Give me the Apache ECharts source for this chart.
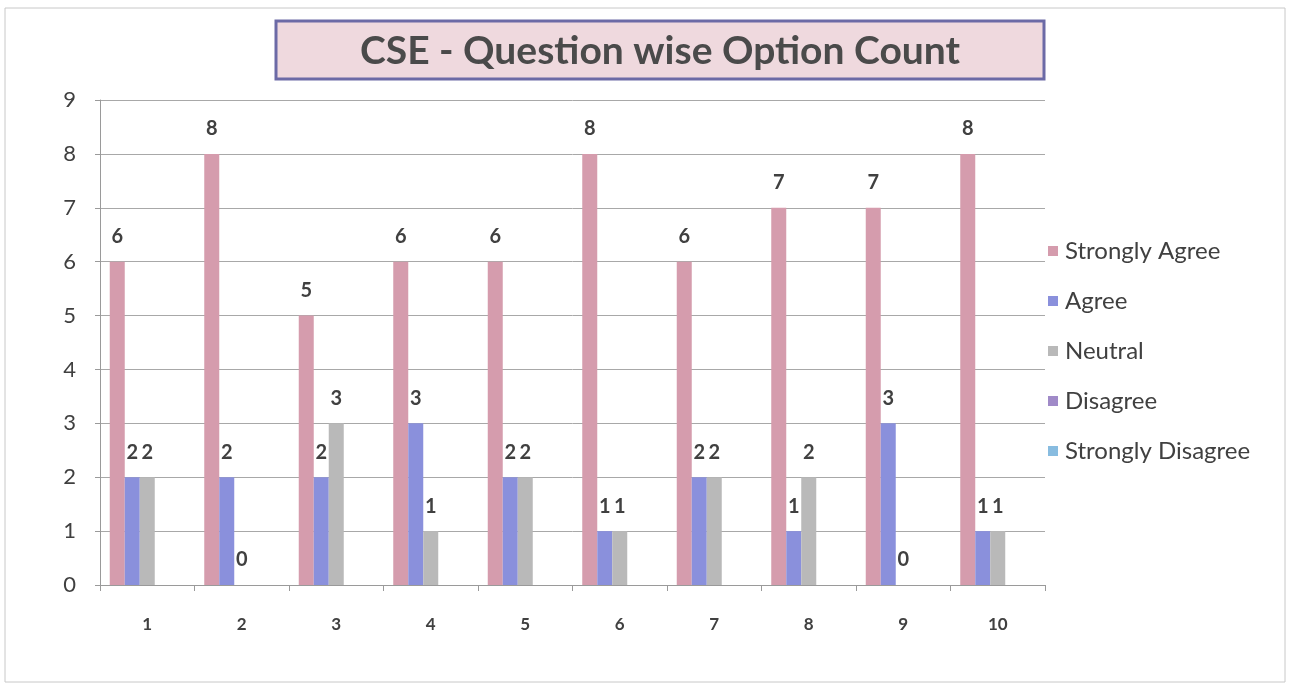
<!DOCTYPE html>
<html>
<head>
<meta charset="utf-8">
<title>CSE - Question wise Option Count</title>
<script src="https://cdn.jsdelivr.net/npm/echarts@6/dist/echarts.min.js"></script>
<style>
  html, body { margin: 0; padding: 0; background: #fff; }
  #chart { width: 1292px; height: 686px; }
</style>
</head>
<body>
<div id="chart"></div>
<script>
  // question numbers on the x axis
  var questions = ['1', '2', '3', '4', '5', '6', '7', '8', '9', '10']
  // option counts per question
  var stronglyAgree = [6, 8, 5, 6, 6, 8, 6, 7, 7, 8]
  var agree = [2, 2, 2, 3, 2, 1, 2, 1, 3, 1]
  var neutral = [2, 0, 3, 1, 2, 1, 2, 2, 0, 1]
  var disagree = [0, 0, 0, 0, 0, 0, 0, 0, 0, 0]
  var stronglyDisagree = [0, 0, 0, 0, 0, 0, 0, 0, 0, 0]
  var yTicks = [0, 9, 1] // min, max, interval

  var font = 'Lato, "Open Sans", sans-serif'
  var textColor = '#404040'

  function barSeries(name, data, color, showLabel) {
    return {
      name: name,
      type: 'bar',
      data: data,
      barWidth: 15,
      barGap: '0%',
      itemStyle: {color: color},
      label: {
        show: showLabel,
        position: 'top',
        distance: 15,
        fontFamily: font,
        fontWeight: 'bold',
        fontSize: 20,
        color: textColor
      }
    }
  }

  var chart = echarts.init(document.getElementById('chart'))
  chart.setOption({
    animation: false,
    backgroundColor: '#fff',
    textStyle: {fontFamily: font},
    graphic: [
      {
        type: 'rect',
        shape: {x: 5, y: 8, width: 1280, height: 674},
        style: {fill: 'none', stroke: '#c8c8c8', lineWidth: 1}
      },
      {
        type: 'rect',
        shape: {x: 276, y: 21, width: 768, height: 58},
        style: {fill: '#efd9de', stroke: '#6c6aa6', lineWidth: 3}
      },
      {
        type: 'text',
        x: 660,
        y: 51,
        style: {
          text: 'CSE - Question wise Option Count',
          fontFamily: font,
          fontWeight: 'bold',
          fontSize: 39,
          fill: '#4a4a4a',
          align: 'center',
          verticalAlign: 'middle'
        }
      }
    ],
    legend: {
      orient: 'vertical',
      left: 1043,
      top: 234,
      itemWidth: 10,
      itemHeight: 10,
      itemGap: 26,
      icon: 'rect',
      textStyle: {fontFamily: font, fontSize: 24, color: textColor, padding: [0, 0, 0, 2]},
      data: ['Strongly Agree', 'Agree', 'Neutral', 'Disagree', 'Strongly Disagree']
    },
    grid: {left: 100, right: 247, top: 100, bottom: 101, containLabel: false},
    xAxis: {
      type: 'category',
      data: questions,
      axisLine: {lineStyle: {color: '#9a9a9a'}},
      axisTick: {show: true, length: 6, lineStyle: {color: '#9a9a9a'}},
      axisLabel: {
        margin: 31,
        fontFamily: font,
        fontWeight: 'bold',
        fontSize: 17,
        color: textColor
      }
    },
    yAxis: {
      type: 'value',
      min: yTicks[0],
      max: yTicks[1],
      interval: yTicks[2],
      axisLine: {show: true, lineStyle: {color: '#9a9a9a'}},
      axisTick: {show: true, length: 5, lineStyle: {color: '#9a9a9a'}},
      splitLine: {lineStyle: {color: '#a8a8a8', width: 1}},
      axisLabel: {margin: 24, fontFamily: font, fontSize: 22, color: textColor}
    },
    series: [
      barSeries('Strongly Agree', stronglyAgree, '#d59cad', true),
      barSeries('Agree', agree, '#8a90dc', true),
      barSeries('Neutral', neutral, '#b9b9b9', true),
      barSeries('Disagree', disagree, '#a08ac8', false),
      barSeries('Strongly Disagree', stronglyDisagree, '#88bce0', false)
    ]
  })
</script>
</body>
</html>
